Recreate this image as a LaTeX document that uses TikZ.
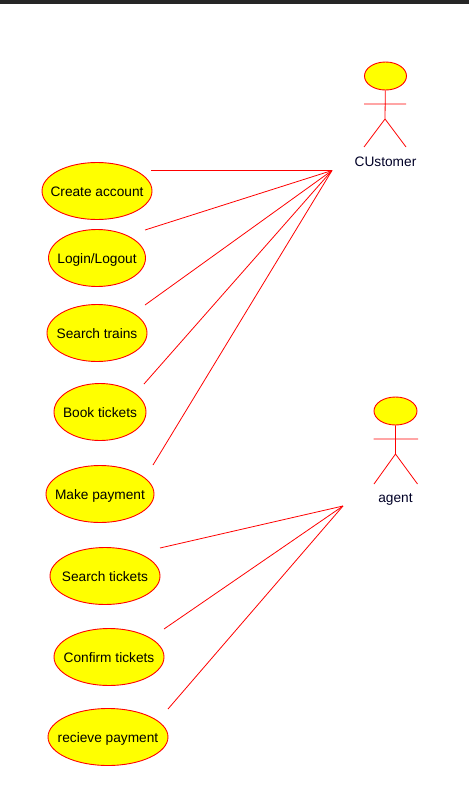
\documentclass[tikz,border=0pt]{standalone}
\usepackage{fontspec}
\setmainfont{Liberation Sans}
\definecolor{ucyellow}{RGB}{255,255,0}
\tikzset{
  usecase/.style={draw=red,fill=ucyellow,line width=0.9pt,ellipse,inner sep=0pt,font=\fontsize{13.7}{16}\selectfont},
  head/.style={draw=red,fill=ucyellow,line width=0.9pt,ellipse,inner sep=0pt,minimum width=42pt,minimum height=28pt},
  link/.style={draw=red,line width=0.8pt},
  actorname/.style={font=\fontsize{13.7}{16}\selectfont,text=black!85!blue}
}
\usetikzlibrary{shapes.geometric}
\begin{document}
\begin{tikzpicture}[x=1pt,y=-1pt]
      \useasboundingbox(0,0)rectangle(469,790);
      \fill[black!85](0,0)rectangle(469,4);
      % use cases: name/x/y/width/text
      \foreach \N/\X/\Y/\W/\T in{create/97/191/110/Create account, login/97/258/97/{Login/Logout},
        trains/97/333/100/Search trains, book/100/412/92/Book tickets, pay/100/494/108/Make payment,
        search/105/576/110/Search tickets, confirm/109/657/110/Confirm tickets, recieve/108/737/120/recieve payment}{
        \node[usecase,minimum width=\W pt,minimum height=57pt](\N)at(\X,\Y){\raisebox{-5.5pt}[0pt][0pt]{\makebox[0pt]{\T}}};
      }
      % actors
      \node[head](custhead)at(385.5,76){};
      \coordinate(custhip)at(385,119);\coordinate(custL)at(364,104);\coordinate(custR)at(406,104);
      \coordinate(custfootL)at(364,147);\coordinate(custfootR)at(406,147);
      \draw[link](custhead)--(custhip)--(custfootL) (custhip)--(custfootR) (custL)--(custR);
      \node[actorname](customer)at(385.5,162){CUstomer};
      \node[head,minimum width=43pt](agenthead)at(395.5,411){};
      \coordinate(agenthip)at(395.5,454);\coordinate(agentL)at(373.5,439);\coordinate(agentR)at(418,439);
      \coordinate(agentfootL)at(374,484);\coordinate(agentfootR)at(417.5,484);
      \draw[link](agenthead)--(agenthip)--(agentfootL) (agenthip)--(agentfootR) (agentL)--(agentR);
      \node[actorname](agent)at(395.5,499){agent};
      % associations
      \coordinate(custhub)at(332,170.5);\coordinate(agenthub)at(343,506);
      \foreach \E/\X/\Y/\H in{create/151/170.5/custhub, login/145/230/custhub, trains/145/305/custhub,
        book/144/384/custhub, pay/153/465/custhub, search/160/548/agenthub,
        confirm/164/629/agenthub, recieve/168/709/agenthub}{
        \coordinate(\E end)at(\X,\Y);
        \draw[link](\E end)--(\H);
      }
    \end{tikzpicture}
\end{document}
